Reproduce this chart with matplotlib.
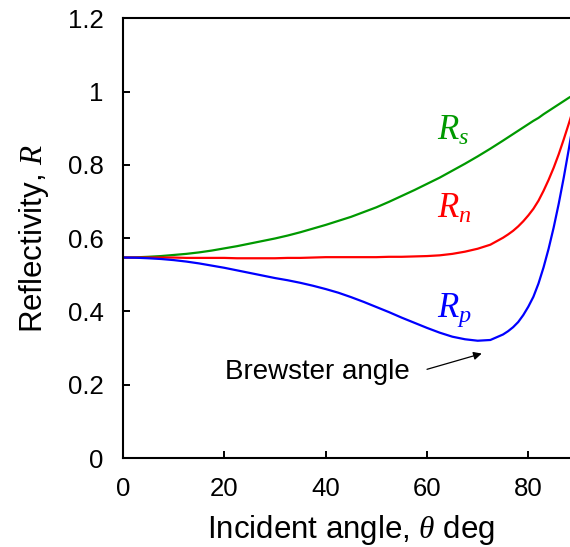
import matplotlib
matplotlib.use("Agg")
import matplotlib.pyplot as plt

plt.rcParams['font.family'] = ['Liberation Sans', 'DejaVu Sans']
plt.rcParams['mathtext.fontset'] = 'custom'
plt.rcParams['mathtext.it'] = 'Liberation Serif:italic'
plt.rcParams['mathtext.rm'] = 'Liberation Serif'

angle = [0, 2.5, 5, 7.5, 10, 12.5, 15, 17.5, 20, 22.5, 25, 27.5, 30, 32.5, 35,
         37.5, 40, 42.5, 45, 47.5, 50, 52.5, 55, 57.5, 60, 62.5, 65, 67.5, 70,
         72.5, 75, 76, 77, 78, 79, 80, 81, 82, 83, 84, 85, 86, 87, 88, 89, 90]
Rs = [0.547, 0.5475, 0.549, 0.551, 0.554, 0.557, 0.561, 0.566, 0.572, 0.578,
      0.585, 0.592, 0.599, 0.607, 0.616, 0.626, 0.636, 0.647, 0.658, 0.671,
      0.684, 0.699, 0.715, 0.731, 0.748, 0.765, 0.784, 0.803, 0.823, 0.844,
      0.866, 0.875, 0.884, 0.893, 0.902, 0.911, 0.920, 0.928, 0.938, 0.947,
      0.956, 0.965, 0.974, 0.983, 0.991, 1.0]
Rp = [0.547, 0.5465, 0.545, 0.543, 0.540, 0.536, 0.531, 0.525, 0.519, 0.512,
      0.505, 0.498, 0.491, 0.485, 0.478, 0.470, 0.461, 0.451, 0.439, 0.426,
      0.412, 0.398, 0.383, 0.369, 0.355, 0.342, 0.331, 0.324, 0.320, 0.322,
      0.337, 0.346, 0.357, 0.371, 0.390, 0.413, 0.440, 0.476, 0.520, 0.571,
      0.629, 0.694, 0.766, 0.844, 0.926, 1.0]
Rn = [0.547, 0.547, 0.547, 0.547, 0.547, 0.546, 0.546, 0.546, 0.546, 0.545,
      0.545, 0.545, 0.545, 0.546, 0.546, 0.547, 0.548, 0.548, 0.548, 0.548,
      0.548, 0.549, 0.549, 0.550, 0.551, 0.553, 0.557, 0.563, 0.571, 0.582,
      0.601, 0.610, 0.620, 0.632, 0.646, 0.662, 0.680, 0.702, 0.729, 0.759,
      0.792, 0.829, 0.870, 0.913, 0.958, 1.0]

xticks = [0, 20, 40, 60, 80]
yticks = [0, 0.2, 0.4, 0.6, 0.8, 1.0, 1.2]
ytick_labels = ['0', '0.2', '0.4', '0.6', '0.8', '1', '1.2']

green = '#009900'
red = '#FF0000'
blue = '#0000FF'

fig = plt.figure(figsize=(5.70, 5.47), dpi=100)
ax = fig.add_axes([0.2158, 0.1627, 0.80, 0.804])

ax.plot(angle, Rs, color=green, lw=1.6)
ax.plot(angle, Rn, color=red, lw=1.6)
ax.plot(angle, Rp, color=blue, lw=1.6)

ax.set_xlim(0, 90)
ax.set_ylim(0, 1.2)
ax.set_xticks(xticks)
ax.set_xticklabels([str(t) for t in xticks])
ax.set_yticks(yticks)
ax.set_yticklabels(ytick_labels)
ax.tick_params(direction='in', length=5, width=1.4, labelsize=18.5, pad=14)
for s in ax.spines.values():
    s.set_linewidth(1.5)
ax.spines['right'].set_visible(False)

ax.set_xlabel(r'Incident angle, $\theta$ deg', fontsize=22.5, labelpad=8)
ax.set_ylabel(r'Reflectivity, $R$', fontsize=22.5, labelpad=12)

ax.text(62.0, 0.867, r'$R_s$', color=green, fontsize=25, ha='left', va='baseline')
ax.text(62.0, 0.654, r'$R_n$', color=red, fontsize=25, ha='left', va='baseline')
ax.text(62.0, 0.385, r'$R_p$', color=blue, fontsize=25, ha='left', va='baseline')

ax.text(20.2, 0.215, 'Brewster angle', fontsize=20, ha='left', va='baseline')
ax.annotate('', xy=(70.8, 0.285), xytext=(60.0, 0.242),
            arrowprops=dict(arrowstyle='-|>', color='black', lw=0.9,
                            mutation_scale=12, shrinkA=0, shrinkB=0))

fig.savefig('out.png', dpi=100)
